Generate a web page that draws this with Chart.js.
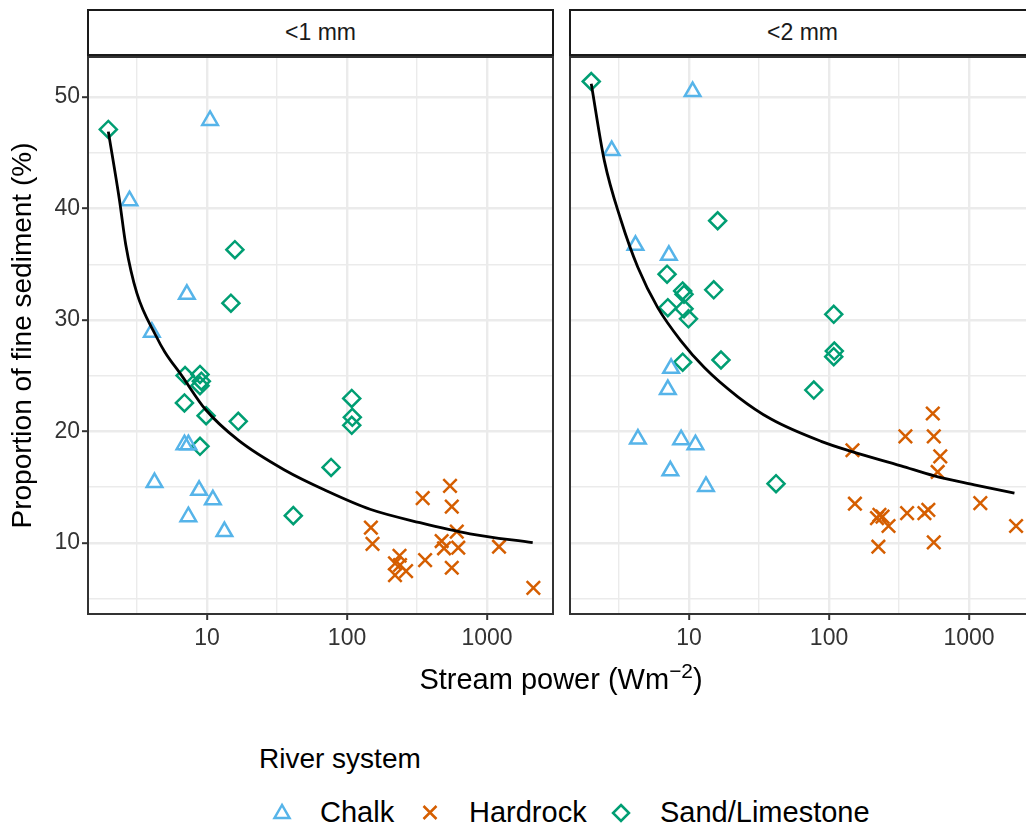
<!DOCTYPE html>
<html>
<head>
<meta charset="utf-8">
<script src="https://cdn.jsdelivr.net/npm/chart.js@4.4.0/dist/chart.umd.min.js"></script>
<style>
html, body { margin: 0; padding: 0; background: #fff; }
body { width: 1026px; height: 828px; overflow: hidden; position: relative; font-family: "Liberation Sans", Arial, Helvetica, sans-serif; color: #000; }
.strip { position: absolute; top: 9px; height: 47px; width: 467px; box-sizing: border-box; border: 2px solid #1a1a1a; display: flex; align-items: center; justify-content: center; font-size: 23px; color: #1a1a1a; }
.panel { position: absolute; top: 56px; height: 610px; }
.txt { position: absolute; white-space: nowrap; }
</style>
</head>
<body>

<div class="strip" style="left:87px">&lt;1 mm</div>
<div class="strip" style="left:569px">&lt;2 mm</div>

<div class="panel" style="left:0;width:560px"><canvas id="panel1" width="560" height="610"></canvas></div>
<div class="panel" style="left:560px;width:476px"><canvas id="panel2" width="476" height="610"></canvas></div>

<div class="txt" style="left:88px;width:946px;top:665px;font-size:29px;line-height:29px;text-align:center">Stream power (Wm<span style="font-size:0.72em;position:relative;top:-0.55em">&minus;2</span>)</div>

<div class="txt" style="left:259px;top:745px;font-size:28px;line-height:28px">River system</div>
<svg style="position:absolute;left:0;top:792px" width="1026" height="40">
  <polygon points="282,13 274.5,26 289.5,26" fill="none" stroke="#56B4E9" stroke-width="2.5"/>
  <path d="M423.5,14 L436.5,27 M436.5,14 L423.5,27" stroke="#D55E00" stroke-width="2.5"/>
  <polygon points="621,13 629,21 621,29 613,21" fill="none" stroke="#009E73" stroke-width="2.5"/>
</svg>
<div class="txt" style="left:320px;top:798px;font-size:29px;line-height:29px">Chalk</div>
<div class="txt" style="left:469px;top:798px;font-size:29px;line-height:29px">Hardrock</div>
<div class="txt" style="left:660px;top:798px;font-size:29px;line-height:29px">Sand/Limestone</div>

<script>
// valores: [stream power, % fine sediment]
// panel <1 mm
const chalk1 = [[10.5,47.9],[2.79,40.7],[7.17,32.3],[4.03,28.9],[6.89,18.8],[7.35,18.8],[4.21,15.4],[8.77,14.7],[11.0,13.85],[7.35,12.34],[13.3,11.0]];
const hard1 = [[148,11.35],[152,9.9],[347,14.0],[544,15.1],[560,13.24],[608,11.0],[474,10.15],[493,9.5],[623,9.55],[560,7.75],[361,8.44],[237,8.83],[220,8.14],[239,8.0],[264,7.45],[220,7.09],[1218,9.64],[2143,5.95]];
const sand1 = [[1.97,47.1],[15.8,36.3],[14.8,31.5],[6.96,25.0],[8.9,25.1],[9.1,24.5],[8.9,24.1],[6.89,22.55],[9.84,21.4],[16.7,20.9],[8.9,18.65],[41.3,12.43],[76.9,16.76],[108,22.95],[109,21.26],[108,20.54]];
const fit1 = [[1.97,46.9],[2.37,40.7],[2.62,36.8],[3.15,32.4],[4.3,28.6],[5.0,27.1],[6.59,25.0],[9.68,22.0],[16.7,19.2],[36,16.5],[70,14.7],[146,13.0],[332,11.8],[756,10.8],[2120,10.0]];
// panel <2 mm
const chalk2 = [[10.6,50.5],[2.8,45.2],[4.14,36.7],[7.17,35.8],[7.44,25.65],[7.05,23.75],[4.31,19.3],[8.77,19.25],[11.1,18.8],[7.35,16.45],[13.2,15.05]];
const hard2 = [[551,21.6],[351,19.55],[560,19.55],[147,18.3],[623,17.75],[597,16.35],[153,13.5],[1204,13.55],[361,12.65],[480,12.65],[512,12.95],[229,12.5],[241,12.34],[220,12.2],[266,11.5],[225,9.64],[560,10.03],[2168,11.5]];
const sand2 = [[2.0,51.4],[16.0,38.9],[6.96,34.1],[9.0,32.6],[9.2,32.3],[15.0,32.7],[7.05,31.1],[9.2,31.0],[9.9,30.1],[9.0,26.2],[16.9,26.4],[77.8,23.7],[41.8,15.3],[108,30.5],[109,27.2],[108,26.7]];
const fit2 = [[2.0,51.2],[2.48,44.3],[3.27,38.9],[4.31,34.7],[5.97,31.1],[8.77,28.1],[12.9,25.7],[22.3,23.1],[38.5,21.1],[87.7,19.1],[144,18.2],[327,16.9],[565,16.0],[1091,15.2],[2111,14.45]];

// ejes
const xMajor = [10, 100, 1000];
const xMinor = [3.1623, 31.623, 316.23];
const yMajor = [10, 20, 30, 40, 50];
const yMinor = [5, 15, 25, 35, 45];
const xRange = [1.41, 2960];
const yRange = [3.6, 53.6];

const gridColor = '#EBEBEB';
const tickFont = { family: '"Liberation Sans", Arial, sans-serif', size: 23 };

function pts(arr) {
  return arr.map(p => ({ x: p[0], y: p[1] }));
}

// sin relleno automatico alrededor de las escalas
function noPad(s) {
  s.paddingTop = 0;
  s.paddingBottom = 0;
  s.paddingLeft = 0;
  s.paddingRight = 0;
}

// borde del panel
const panelBorder = {
  id: 'panelBorder',
  afterDraw(chart) {
    const a = chart.chartArea;
    const ctx = chart.ctx;
    ctx.save();
    ctx.strokeStyle = '#333333';
    ctx.lineWidth = 2;
    ctx.strokeRect(a.left, a.top, a.right - a.left, a.bottom - a.top);
    ctx.restore();
  }
};

function makePanel(id, chalk, hard, sand, fit, withY) {
  const ctx = document.getElementById(id).getContext('2d');
  return new Chart(ctx, {
    type: 'scatter',
    data: {
      datasets: [
        {
          label: 'fit',
          data: pts(fit),
          showLine: true,
          borderColor: '#000',
          borderWidth: 2.8,
          pointRadius: 0,
          cubicInterpolationMode: 'monotone',
          fill: false
        },
        {
          label: 'Chalk',
          data: pts(chalk),
          pointStyle: 'triangle',
          pointRadius: 9,
          borderColor: '#56B4E9',
          backgroundColor: 'rgba(0,0,0,0)',
          pointBorderWidth: 2.5
        },
        {
          label: 'Hardrock',
          data: pts(hard),
          pointStyle: 'crossRot',
          pointRadius: 9.5,
          borderColor: '#D55E00',
          backgroundColor: 'rgba(0,0,0,0)',
          pointBorderWidth: 2.5
        },
        {
          label: 'Sand/Limestone',
          data: pts(sand),
          pointStyle: 'rectRot',
          pointRadius: 8.5,
          borderColor: '#009E73',
          backgroundColor: 'rgba(0,0,0,0)',
          pointBorderWidth: 2.5
        }
      ]
    },
    options: {
      responsive: false,
      animation: false,
      devicePixelRatio: 1,
      layout: { autoPadding: false, padding: { top: 1, right: withY ? 7 : 1, left: 0, bottom: 0 } },
      plugins: { legend: { display: false }, tooltip: { enabled: false } },
      scales: {
        x: {
          type: 'logarithmic',
          bounds: 'data',
          min: xRange[0],
          max: xRange[1],
          afterBuildTicks: s => { s.ticks = xMinor.concat(xMajor).map(v => ({ value: v })); },
          afterFit: s => { s.height = 52; noPad(s); },
          border: { display: false },
          grid: {
            color: gridColor,
            lineWidth: c => xMajor.includes(c.tick.value) ? 2.4 : 1.4,
            tickColor: c => xMajor.includes(c.tick.value) ? '#333333' : 'rgba(0,0,0,0)',
            tickLength: 6,
            tickWidth: 2
          },
          ticks: {
            autoSkip: false,
            maxRotation: 0,
            padding: 5,
            color: '#333333',
            font: tickFont,
            callback: v => xMajor.includes(v) ? String(v) : ''
          }
        },
        y: {
          type: 'linear',
          bounds: 'data',
          min: yRange[0],
          max: yRange[1],
          afterBuildTicks: s => { s.ticks = yMinor.concat(yMajor).sort((a, b) => a - b).map(v => ({ value: v })); },
          afterFit: s => { s.width = withY ? 88 : 10; noPad(s); },
          border: { display: false },
          grid: {
            color: gridColor,
            lineWidth: c => yMajor.includes(c.tick.value) ? 2.4 : 1.4,
            drawTicks: withY,
            tickColor: c => yMajor.includes(c.tick.value) ? '#333333' : 'rgba(0,0,0,0)',
            tickLength: 6,
            tickWidth: 2
          },
          ticks: {
            display: withY,
            padding: 2,
            color: '#333333',
            font: tickFont,
            callback: v => yMajor.includes(v) ? String(v) : ''
          },
          title: {
            display: withY,
            text: 'Proportion of fine sediment (%)',
            color: '#000',
            font: { family: '"Liberation Sans", Arial, sans-serif', size: 28 },
            padding: { top: 6, bottom: 0 }
          }
        }
      }
    },
    plugins: [panelBorder]
  });
}

makePanel('panel1', chalk1, hard1, sand1, fit1, true);
makePanel('panel2', chalk2, hard2, sand2, fit2, false);
</script>
</body>
</html>
